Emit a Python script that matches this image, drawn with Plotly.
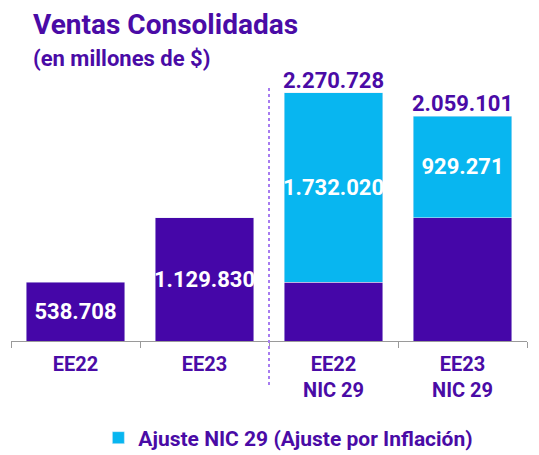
import plotly.graph_objects as go

categories = ["EE22", "EE23", "EE22<br>NIC 29", "EE23<br>NIC 29"]
base_values = [538708, 1129830, 538708, 1129830]
adjust_values = [None, None, 1732020, 929271]
totals = [None, None, 2270728, 2059101]
base_labels = ["538.708", "1.129.830", "", ""]
adjust_labels = ["", "", "1.732.020", "929.271"]
total_labels = ["", "", "2.270.728", "2.059.101"]

PURPLE = "#4506a8"
TEXT_PURPLE = "#4a0ba6"
CYAN = "#08b6f0"
FONT = "Roboto"

W, H = 531, 447

fig = go.Figure()
fig.add_trace(go.Bar(
    x=categories, y=base_values, marker_color=PURPLE, showlegend=False,
    text=base_labels, textposition="inside", insidetextanchor="middle",
    constraintext="none", textangle=0,
    textfont=dict(family=FONT, size=22, color="white", weight="bold"),
    name="Base"))
fig.add_trace(go.Bar(
    x=categories, y=adjust_values, marker_color=CYAN,
    text=adjust_labels, textposition="inside", insidetextanchor="middle",
    constraintext="none", textangle=0,
    textfont=dict(family=FONT, size=22, color="white", weight="bold"),
    name="Ajuste NIC 29 (Ajuste por Inflación)"))

for c, t, lab in zip(categories, totals, total_labels):
    if t is None:
        continue
    fig.add_annotation(x=c, y=t, text=lab, showarrow=False, yanchor="bottom",
                       yshift=-2, font=dict(family=FONT, size=22, color=TEXT_PURPLE, weight="bold"))

fig.add_shape(type="line", xref="x", yref="paper", x0=1.5, x1=1.5, y0=-0.155, y1=0.894,
              line=dict(color="#a77cf0", width=2, dash="dot"))

fig.add_annotation(xref="paper", yref="paper", x=0.0388, y=0.996,
                   xanchor="left", yanchor="middle", showarrow=False,
                   text="(en millones de $)",
                   font=dict(family=FONT, size=22, color=TEXT_PURPLE, weight="bold"))

fig.update_layout(
    width=W, height=H,
    barmode="stack", bargap=0.233,
    plot_bgcolor="white", paper_bgcolor="white",
    margin=dict(l=3, r=12, t=49, b=114, autoexpand=False),
    title=dict(text="Ventas Consolidadas", x=25/W, xanchor="left", xref="container",
               y=1-16/H, yanchor="middle", yref="container",
               font=dict(family=FONT, size=28, color=TEXT_PURPLE, weight="bold")),
    showlegend=True,
    legend=dict(orientation="h", x=0.528, xanchor="center", xref="container",
                y=1-430/H, yanchor="middle", yref="container",
                font=dict(family=FONT, size=21, color=TEXT_PURPLE, weight="bold"),
                bgcolor="rgba(0,0,0,0)"),
)
fig.update_xaxes(showline=True, linecolor="#9a9a9a", linewidth=1, automargin=False,
                 ticks="outside", tickson="boundaries", ticklen=6, tickcolor="#9a9a9a",
                 ticklabelstandoff=5,
                 tickfont=dict(family=FONT, size=20, color=TEXT_PURPLE, weight="bold"),
                 showgrid=False)
fig.update_yaxes(range=[0, 2600000], visible=False, showgrid=False, automargin=False)

fig.write_html("out.html")
